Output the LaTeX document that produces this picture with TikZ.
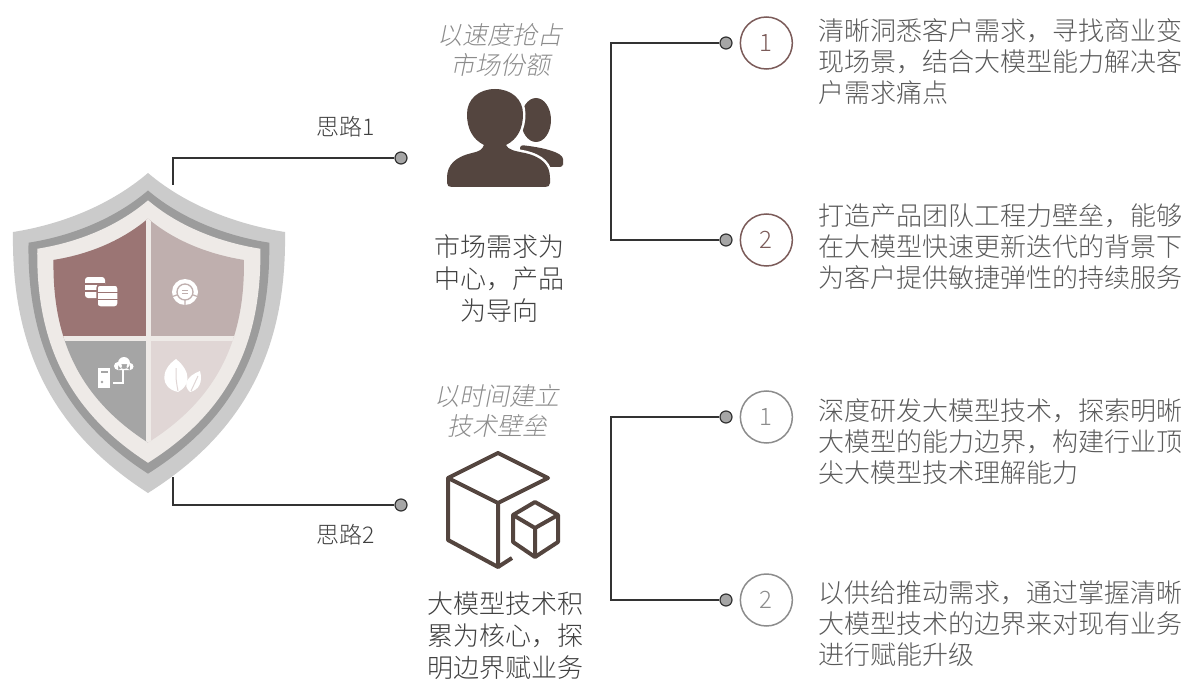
\documentclass[tikz,border=0pt]{standalone}
\usepackage{fontspec}
\setmainfont{Noto Sans CJK SC}[UprightFont={* Light}]
\newfontfamily\slantfont{Noto Sans CJK SC}[UprightFont={* Light},FakeSlant=0.2]
\usepackage{tikz}
\usetikzlibrary{positioning,calc}
\definecolor{LineColor}{HTML}{333333}
\definecolor{DotColor}{HTML}{A6A6A6}
\definecolor{IconColor}{HTML}{54453F}
\definecolor{TextColor}{HTML}{595959}
\definecolor{MidColor}{HTML}{404040}
\definecolor{NoteColor}{HTML}{8C8C8C}
\definecolor{RoseColor}{HTML}{7B5B59}
\definecolor{GreyRing}{HTML}{8C8C8C}
\definecolor{ShieldOuter}{HTML}{CBCBCB}
\definecolor{ShieldBand}{HTML}{9C9C9C}
\definecolor{ShieldRim}{HTML}{EEEAE7}
\definecolor{QuadA}{HTML}{9B7574}
\definecolor{QuadB}{HTML}{BFAFAE}
\definecolor{QuadC}{HTML}{A5A5A5}
\definecolor{QuadD}{HTML}{E0D6D5}
% outline of the shield, centred on its middle
\newcommand{\shieldpath}{(-135,-93) .. controls (-90,-100) and (-40,-118) .. (0,-152)
  .. controls (40,-118) and (92,-100) .. (137,-93)
  .. controls (139,30) and (92,110) .. (0,168)
  .. controls (-90,110) and (-137,30) .. cycle}
% silhouette of the front person
\newcommand{\frontperson}{(484,145) .. controls (472,139) and (467,128) .. (467,114)
  .. controls (467,99) and (479,89) .. (495,89)
  .. controls (511,89) and (523,99) .. (523,114)
  .. controls (523,128) and (518,139) .. (506,145)
  .. controls (508,150) and (515,151) .. (525,153)
  .. controls (542,157) and (550,165) .. (550,178)
  -- (550,183) .. controls (550,186) and (548,187) .. (545,187)
  -- (452,187) .. controls (449,187) and (447,186) .. (447,183)
  -- (447,178) .. controls (447,165) and (455,157) .. (472,153)
  .. controls (480,151) and (482,150) .. cycle}

\begin{document}
\begin{tikzpicture}[x=1pt,y=-1pt,
  conn/.style={LineColor,line width=2.5pt},
  joint/.style={circle,fill=DotColor,draw=LineColor,line width=1.2pt,minimum size=12pt,inner sep=0pt},
  badge/.style={circle,draw,line width=1.5pt,minimum size=52pt,inner sep=0pt,font=\fontsize{24}{24}\selectfont},
  desc/.style={align=left,inner sep=0pt,anchor=west,text=TextColor,font=\fontsize{26}{31}\selectfont},
  centertext/.style={align=center,inner sep=0pt,text=MidColor,font=\fontsize{26}{32}\selectfont},
  motto/.style={align=center,inner sep=0pt,text=NoteColor,font=\slantfont\fontsize{25}{30}\selectfont},
  tag/.style={inner sep=0pt,text=MidColor,font=\fontsize{23}{23}\selectfont},
  icon/.style={IconColor,line width=4pt,line join=round}]
\useasboundingbox (0,0) rectangle (1191,679);

% shield
\begin{scope}[shift={(148,325)}]
  \fill[ShieldOuter] \shieldpath;
  \fill[ShieldBand,scale=0.885] \shieldpath;
  \fill[ShieldRim,scale=0.82] \shieldpath;
  \begin{scope}
    \clip[scale=0.70] \shieldpath;
    \fill[QuadA] (-150,-160) rectangle (0,13);
    \fill[QuadB] (0,-160) rectangle (150,13);
    \fill[QuadC] (-150,13) rectangle (0,180);
    \fill[QuadD] (0,13) rectangle (150,180);
    \draw[ShieldRim,line width=5pt] (0,-160) -- (0,180) (-150,13) -- (150,13);
  \end{scope}
\end{scope}

% database
\fill[white,rounded corners=3pt] (85,277) rectangle (105,298);
\draw[QuadA,line width=1.2pt] (85,284) -- (105,284) (85,291) -- (105,291);
\filldraw[fill=white,draw=QuadA,line width=1.5pt,rounded corners=3pt] (97,285) rectangle (118,307);
\draw[QuadA,line width=1.2pt] (97,292.3) -- (118,292.3) (97,299.6) -- (118,299.6);
% donut chart
\fill[white] (185,292) circle (13);
\draw[QuadB,line width=1.3pt] (185,292) circle (8);
\draw[QuadB,line width=1.2pt] (185,292) ++(160:8) -- ++(160:6) (185,292) ++(20:8) -- ++(20:6)
  (185,292) ++(90:8) -- ++(90:6);
\draw[QuadB,line width=1pt] (182,290.3) -- (188,290.3) (182,293.7) -- (188,293.7);
% server and cloud
\fill[white] (98,368) rectangle (110,388);
\fill[QuadC] (100.5,371) rectangle (107.5,373);
\fill[QuadC] (102,382) circle (1.3);
\fill[white] (118,366) circle (4) (124,363) circle (6) (130,366.5) circle (3.5) (118,364) rectangle (130,370);
\draw[white,line width=1.2pt] (123,370) -- (123,383) -- (113,383);
% leaves
\fill[white] (178,392) .. controls (160,388) and (160,370) .. (176,359) .. controls (192,372) and (190,386) .. cycle;
\fill[white] (190,392) .. controls (182,385) and (187,376) .. (200,371) .. controls (203,382) and (199,390) .. cycle;
\draw[QuadD,line width=1pt] (178,391) .. controls (176,380) .. (176,368);
\draw[QuadD,line width=1pt] (191,391) .. controls (194,384) .. (198,376);

% branches from the shield
\coordinate (sh1) at (173,185);
\coordinate (sh2) at (173,477);
\node[joint] (d1) at (401,158) {};
\node[joint] (d2) at (401,505) {};
\draw[conn] (sh1) |- (d1.west);
\draw[conn] (sh2) |- (d2.west);
\node[tag] (p1) at (346,127) {思路1};
\node[tag] (p2) at (346,535) {思路2};

% first idea
\node[motto] (h1) at (500,50) {以速度抢占\\市场份额};
\fill[IconColor] (536,120) ellipse [x radius=15,y radius=22];
\fill[IconColor,rounded corners=3pt] (520,145) .. controls (540,147) and (563,152) .. (563,162) -- (563,167) -- (520,167) -- cycle;
\draw[white,line width=5pt] \frontperson;
\fill[IconColor] \frontperson;
\node[centertext] (m1) at (499,279) {市场需求为\\中心，产品\\为导向};

\node[joint] (d11) at (726,43) {};
\node[joint] (d12) at (726,240) {};
\coordinate (brk1) at (611,141);
\draw[conn] (d11.west) -| (brk1) |- (d12.west);
\node[badge,RoseColor,right=7pt of d11] (c11) {1};
\node[badge,RoseColor,right=7pt of d12] (c12) {2};
\node[desc] (t11) at (818,62) {清晰洞悉客户需求，寻找商业变\\现场景，结合大模型能力解决客\\户需求痛点};
\node[desc] (t12) at (818,247) {打造产品团队工程力壁垒，能够\\在大模型快速更新迭代的背景下\\为客户提供敏捷弹性的持续服务};

% second idea
\node[motto] (h2) at (497,411) {以时间建立\\技术壁垒};
\draw[icon] (448,478) -- (498,453) -- (548,478) -- (498,503) -- cycle;
\draw[icon] (448,478) -- (448,540) -- (498,567) -- (498,503);
\draw[icon] (498,567) -- (512,558);
\draw[icon] (535,502) -- (558,515) -- (558,542) -- (535,557) -- (513,542) -- (513,515) -- cycle;
\draw[icon] (513,515) -- (535,528) -- (558,515) (535,528) -- (535,557);
\node[centertext] (m2) at (505,636) {大模型技术积\\累为核心，探\\明边界赋业务};

\node[joint] (d21) at (726,417) {};
\node[joint] (d22) at (726,600) {};
\coordinate (brk2) at (611,508);
\draw[conn] (d21.west) -| (brk2) |- (d22.west);
\node[badge,GreyRing,right=7pt of d21] (c21) {1};
\node[badge,GreyRing,right=7pt of d22] (c22) {2};
\node[desc] (t21) at (818,442) {深度研发大模型技术，探索明晰\\大模型的能力边界，构建行业顶\\尖大模型技术理解能力};
\node[desc] (t22) at (818,624) {以供给推动需求，通过掌握清晰\\大模型技术的边界来对现有业务\\进行赋能升级};
\end{tikzpicture}
\end{document}
